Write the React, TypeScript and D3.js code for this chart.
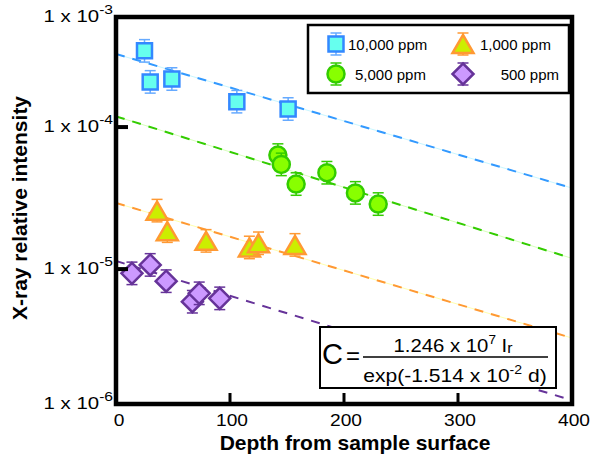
import React from "react";
import * as d3 from "d3";

const W = 592;
const H = 457;
const left = 116, right = 572, top = 17, bottom = 404;

// axis
const xTicks = [0, 100, 200, 300, 400];
const yTicks = [1e-3, 1e-4, 1e-5, 1e-6];
const yTickExp = ["-3", "-4", "-5", "-6"];
const yMin = Math.pow(10, -5.95);
const yMax = Math.pow(10, -3.225);

// measured points (depth, relative intensity)
const depth10000 = [25, 30, 49, 106, 151];
const int10000 = [3.44e-4, 2.08e-4, 2.18e-4, 1.51e-4, 1.34e-4];
const depth5000 = [142, 145, 158, 185, 210, 230];
const int5000 = [6.35e-5, 5.46e-5, 3.97e-5, 4.77e-5, 3.44e-5, 2.87e-5];
const depth1000 = [36, 45, 79, 117, 125, 157];
const int1000 = [2.58e-5, 1.85e-5, 1.58e-5, 1.42e-5, 1.52e-5, 1.48e-5];
const depth500 = [14, 30, 44, 67, 73, 91];
const int500 = [9.33e-6, 1.07e-5, 8.22e-6, 5.89e-6, 6.75e-6, 6.22e-6];

// error, relative
const errRel = [0.2, 0.2, 0.2, 0.2];

// fitted lines: value at depth 0 and at depth 400
const fitStart = [3.27e-4, 1.19e-4, 2.92e-5, 1.14e-5];
const fitEnd = [3.72e-5, 1.19e-5, 3.27e-6, 1.19e-6];

const names = ["10,000 ppm", "5,000 ppm", "1,000 ppm", "500 ppm"];

const styles = [
  { shape: "square", fill: "#66ffee", stroke: "#3388ff", bar: "#66aaff", line: "#3399ff", faint: "#bbf4ff" },
  { shape: "circle", fill: "#88ff00", stroke: "#33cc00", bar: "#33cc00", line: "#33cc00", faint: "#ccffaa" },
  { shape: "triangle", fill: "#ccee00", stroke: "#ff9933", bar: "#ff9933", line: "#ff9933", faint: "#ffff99" },
  { shape: "diamond", fill: "#cc99ff", stroke: "#663399", bar: "#663399", line: "#663399", faint: "none" },
];

const series = [
  { depth: depth10000, value: int10000 },
  { depth: depth5000, value: int5000 },
  { depth: depth1000, value: int1000 },
  { depth: depth500, value: int500 },
];

const font = "'Liberation Sans', Arial, Helvetica, sans-serif";

const shapePath = (shape: string) => {
  if (shape === "square") return "M-7.5,-7.5h15v15h-15Z";
  if (shape === "triangle") return "M0,-9L10.5,9L-10.5,9Z";
  if (shape === "diamond") return "M0,-10.5L10.5,0L0,10.5L-10.5,0Z";
  return "";
};

const Marker = ({ cx, cy, yHi, yLo, st }: any) => (
  <g>
    <line x1={cx} x2={cx} y1={yHi} y2={yLo} stroke={st.bar} strokeWidth={1.5} />
    <line x1={cx - 5.5} x2={cx + 5.5} y1={yHi} y2={yHi} stroke={st.bar} strokeWidth={1.5} />
    <line x1={cx - 5.5} x2={cx + 5.5} y1={yLo} y2={yLo} stroke={st.bar} strokeWidth={1.5} />
    {st.shape === "circle" ? (
      <circle cx={cx} cy={cy} r={8.5} fill={st.fill} stroke={st.stroke} strokeWidth={2.5} />
    ) : (
      <path d={shapePath(st.shape)} transform={`translate(${cx},${cy})`} fill={st.fill} stroke={st.stroke} strokeWidth={2.5} strokeLinejoin="miter" />
    )}
  </g>
);

// text drawn a bit wider than the font, like the original
const Wide = ({ x, y, sx, children, ...rest }: any) => (
  <g transform={`translate(${x},${y}) scale(${sx},1)`}>
    <text x={0} y={0} {...rest}>
      {children}
    </text>
  </g>
);

export default function App() {
  const x = d3.scaleLinear().domain([0, 400]).range([left, right]);
  const y = d3.scaleLog().domain([yMin, yMax]).range([bottom, top]).clamp(true);
  const line = d3
    .line<[number, number]>()
    .x((d) => x(d[0]))
    .y((d) => y(d[1]));

  const legendPos = [
    { mx: 336, my: 44, tx: 348, anchor: "start" },
    { mx: 336, my: 74, tx: 355, anchor: "start" },
    { mx: 463, my: 44, tx: 480, anchor: "start" },
    { mx: 463, my: 74, tx: 559, anchor: "end" },
  ];

  return (
    <svg width={W} height={H} style={{ position: "absolute", left: 0, top: 0, background: "#fff" }} fontFamily={font}>
      <defs>
        <clipPath id="plot">
          <rect x={left} y={top} width={right - left} height={bottom - top} />
        </clipPath>
      </defs>

      {/* fit lines */}
      <g clipPath="url(#plot)">
        {fitStart.map((s, i) => {
          const pts: [number, number][] = [
            [0, s],
            [400, fitEnd[i]],
          ];
          return (
            <g key={i}>
              {styles[i].faint !== "none" && (
                <path d={line(pts) || ""} stroke={styles[i].faint} strokeWidth={0.8} fill="none" />
              )}
              <path d={line(pts) || ""} stroke={styles[i].line} strokeWidth={2} strokeDasharray="9 8" fill="none" />
            </g>
          );
        })}
      </g>

      {/* points */}
      {series.map((s, i) => (
        <g key={i}>
          {s.depth.map((d, j) => {
            const v = s.value[j];
            return (
              <Marker
                key={j}
                cx={x(d)}
                cy={y(v)}
                yHi={y(v * (1 + errRel[i]))}
                yLo={y(v / (1 + errRel[i]))}
                st={styles[i]}
              />
            );
          })}
        </g>
      ))}

      {/* frame */}
      <rect x={left} y={top} width={right - left} height={bottom - top} fill="none" stroke="#000" strokeWidth={4.5} />

      {/* x ticks */}
      {xTicks.map((t) => (
        <g key={t}>
          {t > 0 && t < 400 && <line x1={x(t)} x2={x(t)} y1={bottom} y2={bottom - 11} stroke="#000" strokeWidth={3} />}
          <Wide x={x(t) + (t === 0 ? 3 : 2)} y={426} sx={1.13} fontSize={17} textAnchor="middle">
            {t}
          </Wide>
        </g>
      ))}

      {/* y ticks */}
      {yTicks.map((t, i) => (
        <g key={t}>
          {i > 0 && i < 3 && <line x1={left} x2={left + 12} y1={y(t)} y2={y(t)} stroke="#000" strokeWidth={4} />}
          <Wide x={113} y={y(t) + 5} sx={1.2} fontSize={17} textAnchor="end">
            {"1 x 10"}
            <tspan fontSize={13} dy={-8}>
              {yTickExp[i]}
            </tspan>
          </Wide>
        </g>
      ))}

      {/* axis titles */}
      <text x={355} y={450} fontSize={21} fontWeight="bold" textAnchor="middle">
        Depth from sample surface
      </text>
      <text transform="translate(27,208) rotate(-90)" fontSize={21} fontWeight="bold" textAnchor="middle">
        X-ray relative intensity
      </text>

      {/* legend */}
      <rect x={308} y={25} width={261} height={68} fill="#fff" stroke="#000" strokeWidth={2.5} />
      {names.map((n, i) => {
        const p = legendPos[i];
        return (
          <g key={n}>
            <Marker cx={p.mx} cy={p.my} yHi={p.my - 11} yLo={p.my + 11} st={styles[i]} />
            <text x={p.tx} y={p.my + 6} fontSize={15} textAnchor={p.anchor}>
              {n}
            </text>
          </g>
        );
      })}

      {/* formula */}
      <rect x={320} y={327} width={236} height={61} fill="#fff" stroke="#000" strokeWidth={2} />
      <text x={322} y={364} fontSize={29}>C</text>
      <text x={346} y={364} fontSize={24}>=</text>
      <line x1={363} x2={548} y1={357} y2={357} stroke="#000" strokeWidth={1.5} />
      <Wide x={453} y={352} sx={1.13} fontSize={18} textAnchor="middle">
        {"1.246 x 10"}
        <tspan fontSize={12} dy={-8}>7</tspan>
        <tspan dy={8}>{" I"}</tspan>
        <tspan fontSize={14} dy={1}>r</tspan>
      </Wide>
      <Wide x={455} y={382} sx={1.17} fontSize={18} textAnchor="middle">
        {"exp(-1.514 x 10"}
        <tspan fontSize={12} dy={-8}>-2</tspan>
        <tspan dy={8}>{" d)"}</tspan>
      </Wide>
    </svg>
  );
}
